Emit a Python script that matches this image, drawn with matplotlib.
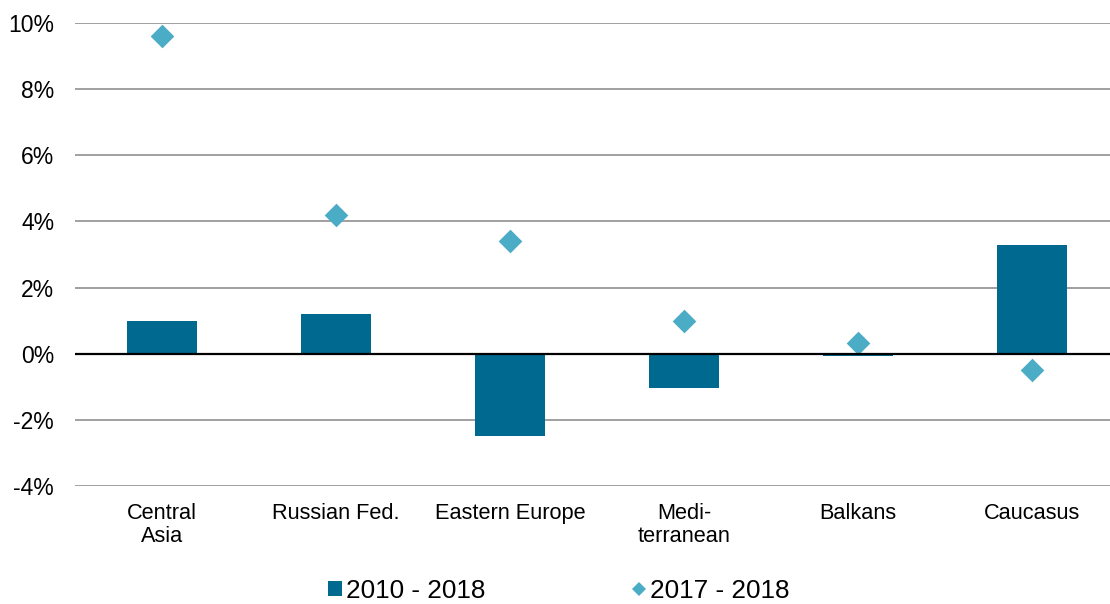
import matplotlib
matplotlib.use("Agg")
import matplotlib.pyplot as plt
from matplotlib.lines import Line2D
from matplotlib.patches import Patch
from matplotlib.ticker import FuncFormatter
import numpy as np

plt.rcParams["font.family"] = ["Liberation Sans", "DejaVu Sans"]

regions = ["Central\nAsia", "Russian Fed.", "Eastern Europe", "Medi-\nterranean", "Balkans", "Caucasus"]
growth_2010_2018 = [1.0, 1.2, -2.5, -1.05, -0.08, 3.3]
growth_2017_2018 = [9.6, 4.2, 3.4, 1.0, 0.33, -0.5]
y_ticks = [-4, -2, 0, 2, 4, 6, 8, 10]
series_labels = ["2010 - 2018", "2017 - 2018"]

bar_color = "#00698F"
point_color = "#4BACC6"

fig = plt.figure(figsize=(11.10, 6.04), dpi=100)
# plot area runs slightly past the right edge of the canvas
ax = fig.add_axes([75 / 1110, (604 - 486) / 604, 1044 / 1110, 463 / 604])

x = np.arange(len(regions))
ax.bar(x, growth_2010_2018, width=0.40, color=bar_color, zorder=3)
ax.scatter(x, growth_2017_2018, marker="D", s=145, color=point_color, zorder=4, linewidths=0)

ax.set_xlim(-0.5, len(regions) - 0.5)
ax.set_ylim(-4, 10)
ax.set_yticks(y_ticks)
ax.yaxis.set_major_formatter(FuncFormatter(lambda v, _: f"{v:.0f}%"))
ax.set_xticks(x)
ax.set_xticklabels(regions, linespacing=1.15)
ax.tick_params(axis="y", length=0, pad=15, labelsize=16.5, colors="#000000")
ax.tick_params(axis="x", length=0, pad=12, labelsize=15.7, colors="#000000")

ax.grid(axis="y", color="#999999", linewidth=1.3, zorder=0)
ax.axhline(0, color="#000000", linewidth=1.6, zorder=5)
for s in ax.spines.values():
    s.set_visible(False)

handles = [
    Patch(facecolor=bar_color, edgecolor="none"),
    Line2D([], [], marker="D", linestyle="none", color=point_color, markersize=7.5, markeredgewidth=0),
]
fig.legend(handles, series_labels, loc="center", bbox_to_anchor=(0.503, 0.022),
           ncol=2, frameon=False, fontsize=18.8, handlelength=0.55, handleheight=0.55,
           handletextpad=0.15, columnspacing=5.6, borderpad=0.0)

fig.savefig("out.png", dpi=100)
